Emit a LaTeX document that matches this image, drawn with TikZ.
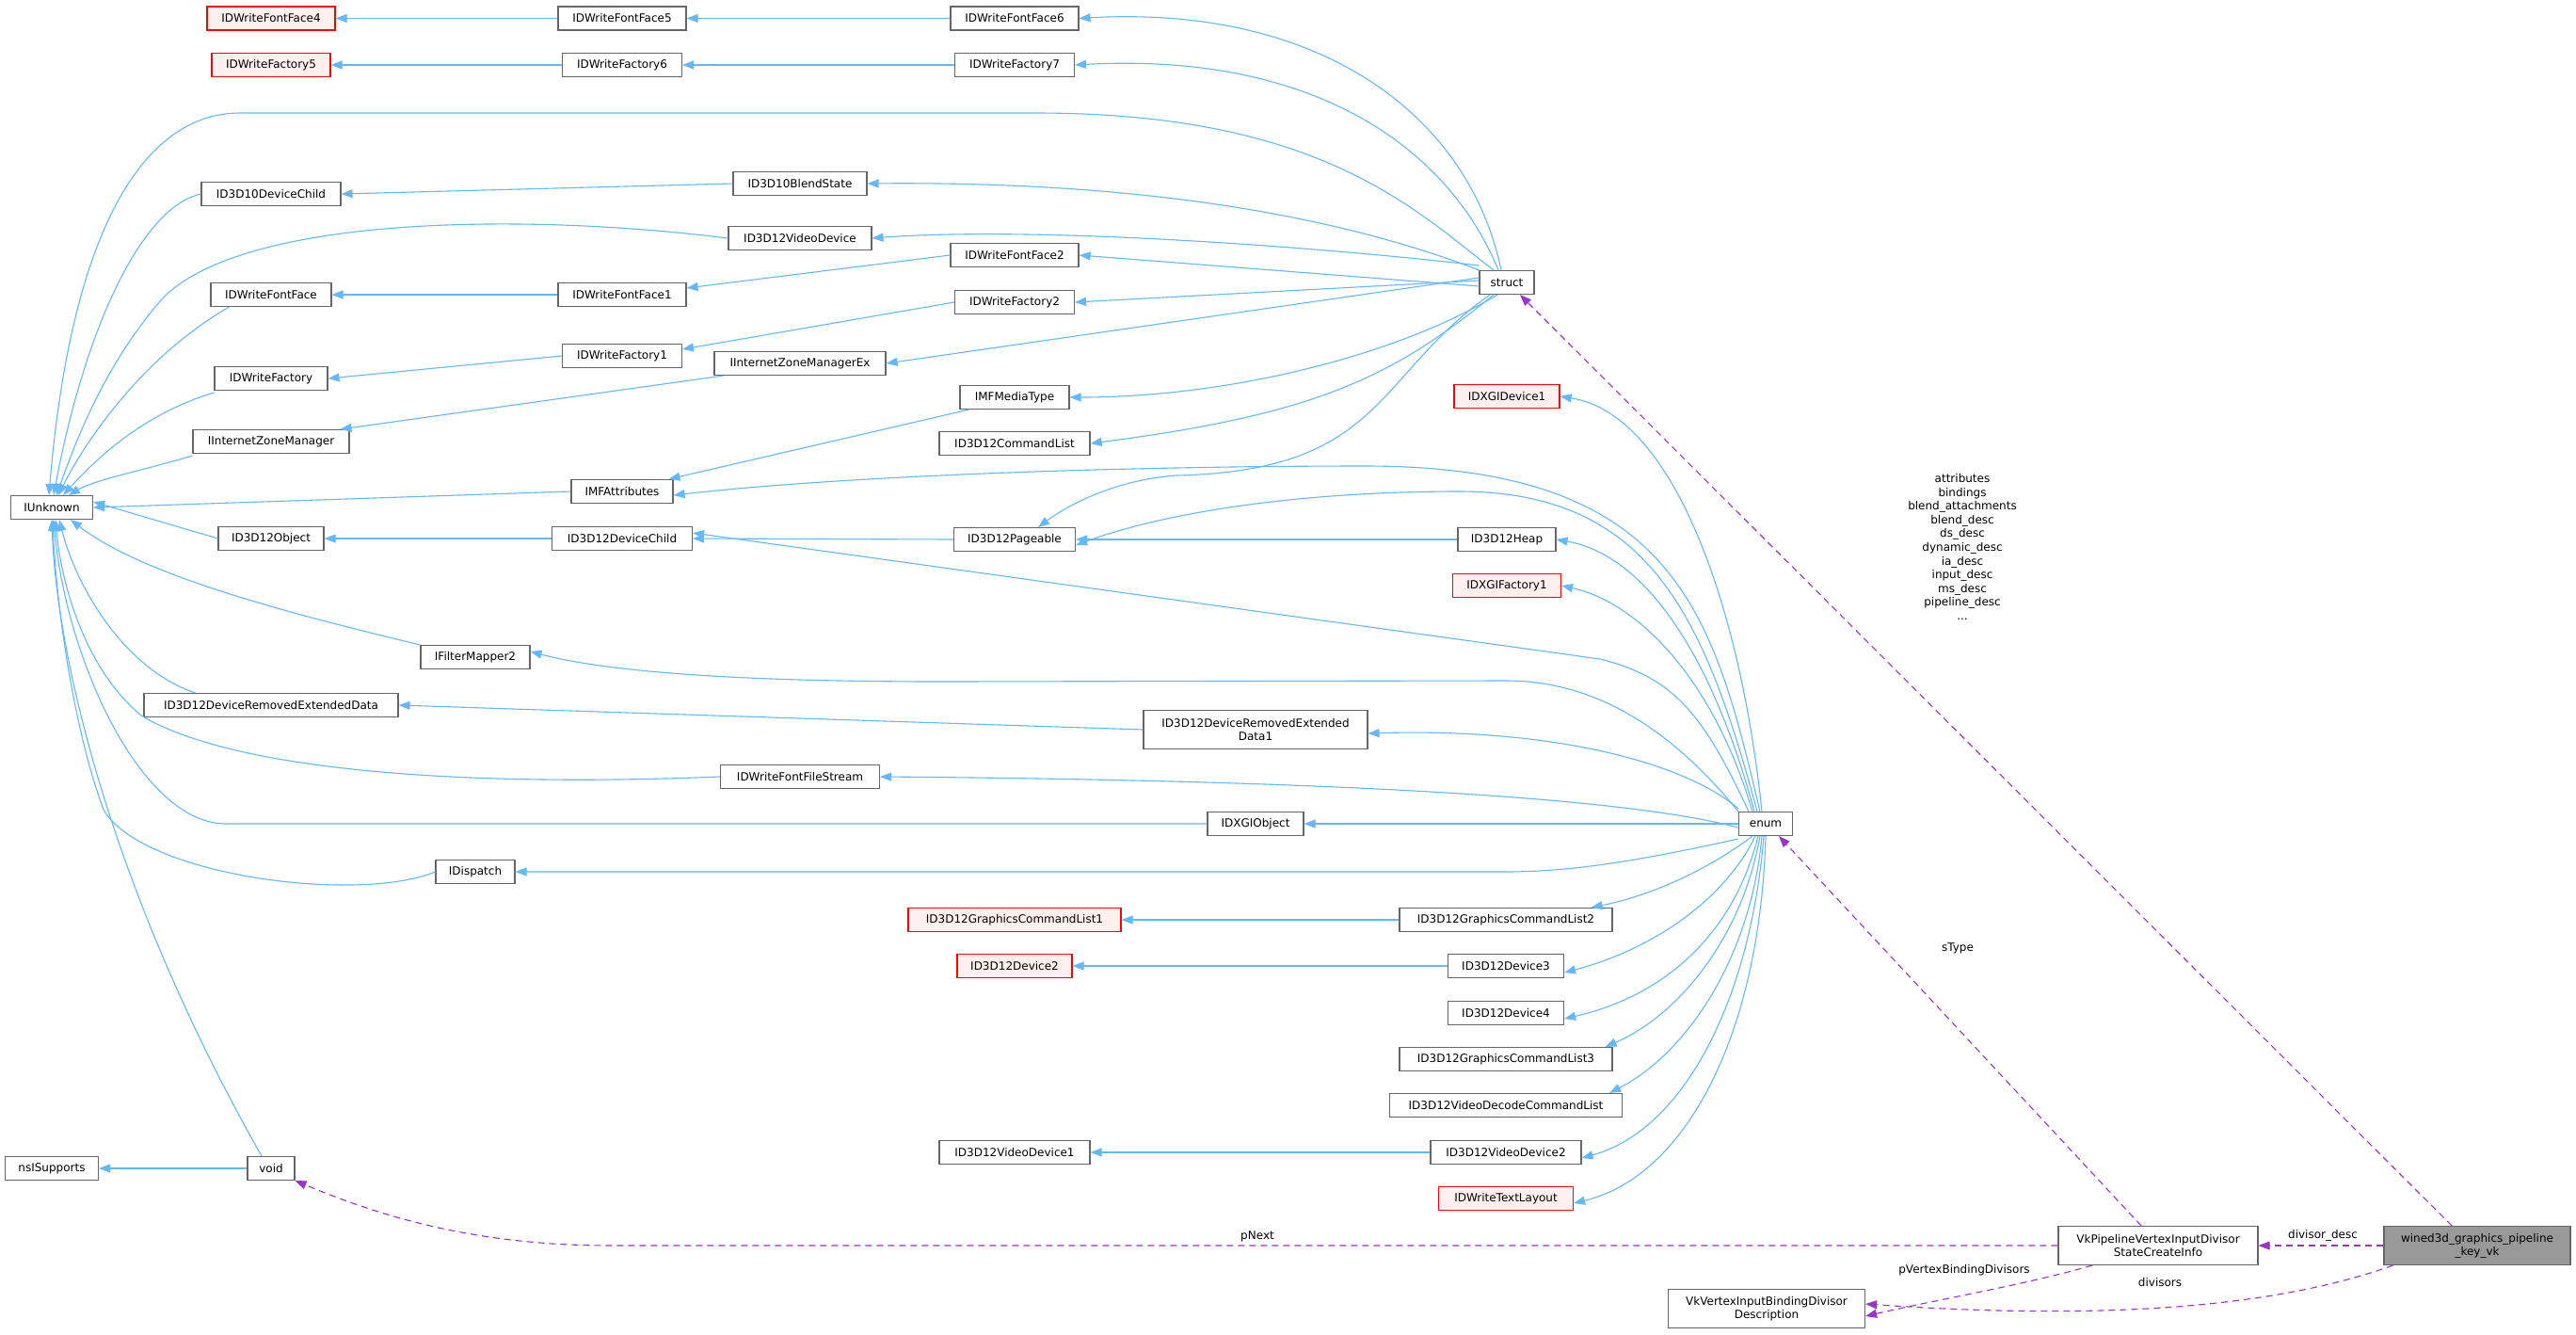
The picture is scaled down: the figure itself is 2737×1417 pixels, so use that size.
\documentclass[tikz,border=0pt]{standalone}
\usepackage{fontspec}
\setmainfont{DejaVu Sans}
\usetikzlibrary{arrows.meta}
\definecolor{eblue}{HTML}{63B8FF}
\definecolor{epurp}{HTML}{9A32CD}
\definecolor{bgray}{HTML}{666666}
\definecolor{pinkfill}{HTML}{FFF0F0}
\begin{document}
\begin{tikzpicture}[x=1pt,y=-1pt,
  box/.style={draw=bgray,line width=1.1pt,fill=white,inner sep=0pt,minimum height=25pt,font=\fontsize{12}{14}\selectfont},
  redbox/.style={box,draw=red,fill=pinkfill},
  two/.style={box,minimum height=41pt,align=center},
  inh/.style={draw=eblue,line width=1.1pt,-{Triangle[length=12pt,width=9pt]}},
  use/.style={draw=epurp,line width=1.1pt,dash pattern=on 7pt off 5pt,-{Triangle[length=12pt,width=9pt]}},
  lab/.style={font=\fontsize{12}{14.6}\selectfont,inner sep=1pt,align=center}]
\useasboundingbox (0,0) rectangle (2737,1417);
\fill[white] (0,0) rectangle (2737,1417);
% nodes
\node[redbox,minimum width=136pt] (ff4) at (288,19.5) {IDWriteFontFace4};
\node[box,minimum width=136pt] (ff5) at (661,19.5) {IDWriteFontFace5};
\node[box,minimum width=136pt] (ff6) at (1078,19.5) {IDWriteFontFace6};
\node[redbox,minimum width=126pt] (f5) at (288,69) {IDWriteFactory5};
\node[box,minimum width=127pt] (f6) at (661,69) {IDWriteFactory6};
\node[box,minimum width=127pt] (f7) at (1078,69) {IDWriteFactory7};
\node[box,minimum width=148pt] (d10c) at (288,206) {ID3D10DeviceChild};
\node[box,minimum width=142pt] (d10b) at (850,195) {ID3D10BlendState};
\node[box,minimum width=152pt] (vd) at (850,253) {ID3D12VideoDevice};
\node[box,minimum width=128pt] (ff) at (288,313) {IDWriteFontFace};
\node[box,minimum width=136pt] (ff1) at (661,313) {IDWriteFontFace1};
\node[box,minimum width=136pt] (ff2) at (1078,271) {IDWriteFontFace2};
\node[box,minimum width=120pt] (f) at (288,402) {IDWriteFactory};
\node[box,minimum width=127pt] (f1) at (661,378) {IDWriteFactory1};
\node[box,minimum width=127pt] (f2) at (1078,321) {IDWriteFactory2};
\node[box,minimum width=182pt] (izmx) at (850,386) {IInternetZoneManagerEx};
\node[box,minimum width=166pt] (izm) at (288,469) {IInternetZoneManager};
\node[box,minimum width=108pt] (imfa) at (661,522) {IMFAttributes};
\node[box,minimum width=116pt] (imfm) at (1078,422) {IMFMediaType};
\node[box,minimum width=160pt] (cl) at (1078,471) {ID3D12CommandList};
\node[box,minimum width=87pt] (iu) at (55,539) {IUnknown};
\node[box,minimum width=58pt] (st) at (1601,300) {struct};
\node[redbox,minimum width=112pt] (dxd1) at (1601,421) {IDXGIDevice1};
\node[box,minimum width=129pt] (pg) at (1078,573) {ID3D12Pageable};
\node[box,minimum width=104pt] (hp) at (1601,573) {ID3D12Heap};
\node[redbox,minimum width=115pt] (dxf1) at (1601,622) {IDXGIFactory1};
\node[box,minimum width=112pt] (obj) at (288,572) {ID3D12Object};
\node[box,minimum width=149pt] (dc) at (661,572) {ID3D12DeviceChild};
\node[box,minimum width=116pt] (fm2) at (505,698) {IFilterMapper2};
\node[box,minimum width=270pt] (dred) at (288,749) {ID3D12DeviceRemovedExtendedData};
\node[two,minimum width=238pt] (dred1) at (1334,775) {ID3D12DeviceRemovedExtended\\Data1};
\node[box,minimum width=169pt] (ffs) at (850,825) {IDWriteFontFileStream};
\node[box,minimum width=102pt] (dxo) at (1334,875) {IDXGIObject};
\node[box,minimum width=57pt] (en) at (1876,875) {enum};
\node[box,minimum width=84pt] (disp) at (505,926) {IDispatch};
\node[redbox,minimum width=226pt] (gcl1) at (1078,977) {ID3D12GraphicsCommandList1};
\node[box,minimum width=226pt] (gcl2) at (1600,977) {ID3D12GraphicsCommandList2};
\node[redbox,minimum width=122pt] (dv2) at (1078,1026) {ID3D12Device2};
\node[box,minimum width=123pt] (dv3) at (1600,1026) {ID3D12Device3};
\node[box,minimum width=123pt] (dv4) at (1600,1076) {ID3D12Device4};
\node[box,minimum width=226pt] (gcl3) at (1600,1125) {ID3D12GraphicsCommandList3};
\node[box,minimum width=247pt] (vdcl) at (1600,1174) {ID3D12VideoDecodeCommandList};
\node[box,minimum width=160pt] (vd1) at (1078,1224) {ID3D12VideoDevice1};
\node[box,minimum width=160pt] (vd2) at (1600,1224) {ID3D12VideoDevice2};
\node[redbox,minimum width=143pt] (tl) at (1600,1273) {IDWriteTextLayout};
\node[box,minimum width=99pt] (nsi) at (55,1241) {nsISupports};
\node[box,minimum width=50pt] (void) at (288,1241) {void};
\node[two,minimum width=212pt] (vkp) at (2293,1323) {VkPipelineVertexInputDivisor\\StateCreateInfo};
\node[two,minimum width=198pt,fill=black!40] (w3d) at (2632,1323) {wined3d\_graphics\_pipeline\\\_key\_vk};
\node[two,minimum width=209pt] (vkv) at (1877,1390) {VkVertexInputBindingDivisor\\Description};
% straight chains
\draw[inh] (ff5.west) -- (ff4.east);
\draw[inh] (ff6.west) -- (ff5.east);
\draw[inh] (f6.west) -- (f5.east);
\draw[inh] (f7.west) -- (f6.east);
\draw[inh] (d10b.west) -- (d10c.east);
\draw[inh] (ff1.west) -- (ff.east);
\draw[inh] (ff2.west) -- ([yshift=-6pt]ff1.north east);
\draw[inh] (f1.west) -- (f.east);
\draw[inh] (f2.west) -- ([yshift=-6pt]f1.north east);
\draw[inh] ([xshift=10pt]izmx.south west) -- ([xshift=-10pt]izm.north east);
\draw[inh] ([xshift=10pt]imfm.south west) -- ([xshift=-5pt]imfa.north east);
\draw[inh] (imfa.west) -- (iu.east);
\draw[inh] (obj.west) -- ([yshift=6pt]iu.east);
\draw[inh] (dc.west) -- (obj.east);
\draw[inh] (pg.west) -- (dc.east);
\draw[inh] (hp.west) -- (pg.east);
\draw[inh] (dred1.west) -- (dred.east);
\draw[inh] (en.west) -- (dxo.east);
\draw[inh] (gcl2.west) -- (gcl1.east);
\draw[inh] (dv3.west) -- (dv2.east);
\draw[inh] (vd2.west) -- (vd1.east);
\draw[inh] (void.west) -- (nsi.east);
% struct edges
\draw[inh] ([xshift=-6pt]st.north) .. controls (1560,120) and (1400,5) .. (ff6.east);
\draw[inh] ([xshift=-9pt]st.north) .. controls (1540,160) and (1400,55) .. (f7.east);
\draw[inh] ([xshift=-14pt]st.north) .. controls (1500,220) and (1400,120) .. (1100,120) -- (255,120) .. controls (150,120) and (75,250) .. ([xshift=-3pt]iu.north);
\draw[inh] (st.north west) .. controls (1450,240) and (1250,192) .. (d10b.east);
\draw[inh] ([yshift=5pt]st.north west) .. controls (1400,262) and (1100,240) .. (vd.east);
\draw[inh] ([yshift=-4pt]st.west) -- (ff2.east);
\draw[inh] ([yshift=2pt]st.west) -- (f2.east);
\draw[inh] ([yshift=5pt]st.west) -- (izmx.east);
\draw[inh] ([xshift=-10pt]st.south) .. controls (1480,380) and (1300,422) .. (imfm.east);
\draw[inh] ([xshift=-14pt]st.south) .. controls (1480,400) and (1400,440) .. (cl.east);
\draw[inh] ([xshift=-18pt]st.south) .. controls (1460,400) and (1470,500) .. (1250,505) .. controls (1180,510) and (1130,540) .. ([xshift=25pt]pg.north);
% IUnknown edges
\draw[inh] (d10c.west) .. controls (150,220) and (90,350) .. ([xshift=2pt]iu.north);
\draw[inh] (vd.west) .. controls (550,225) and (250,230) .. (170,320) .. controls (110,390) and (80,470) .. ([xshift=5pt]iu.north);
\draw[inh] ([xshift=20pt]ff.south west) .. controls (150,380) and (90,470) .. ([xshift=7pt]iu.north);
\draw[inh] ([yshift=-2pt]f.south west) .. controls (150,440) and (100,490) .. ([xshift=12pt]iu.north);
\draw[inh] ([yshift=-2pt]izm.south west) .. controls (150,500) and (100,510) .. ([xshift=18pt]iu.north);
\draw[inh] (fm2.north west) .. controls (300,650) and (150,610) .. ([xshift=20pt]iu.south);
\draw[inh] ([xshift=55pt]dred.north west) .. controls (130,710) and (80,620) .. ([xshift=8pt]iu.south);
\draw[inh] (ffs.west) .. controls (500,836) and (250,820) .. (150,760) .. controls (90,710) and (65,620) .. ([xshift=4pt]iu.south);
\draw[inh] (dxo.west) -- (240,875) .. controls (150,875) and (70,700) .. ([xshift=2pt]iu.south);
\draw[inh] (disp.west) .. controls (380,960) and (150,930) .. (110,860) .. controls (80,780) and (60,650) .. ([xshift=1pt]iu.south);
\draw[inh] ([xshift=-10pt]void.north) .. controls (120,950) and (60,700) .. (iu.south);
% enum edges
\draw[inh] ([xshift=-6pt]en.north) .. controls (1820,650) and (1780,495) .. (1450,495) .. controls (1200,495) and (900,505) .. ([yshift=-4pt]imfa.east);
\draw[inh] ([xshift=-9pt]en.north) .. controls (1810,650) and (1750,522) .. (1550,522) .. controls (1400,522) and (1250,540) .. ([yshift=-6pt]pg.east);
\draw[inh] ([xshift=-4pt]en.north) .. controls (1850,650) and (1780,440) .. (dxd1.east);
\draw[inh] ([xshift=-12pt]en.north) .. controls (1820,700) and (1750,590) .. (hp.east);
\draw[inh] ([xshift=-14pt]en.north) .. controls (1820,720) and (1740,640) .. (dxf1.east);
\draw[inh] ([xshift=-18pt]en.north) .. controls (1810,760) and (1780,720) .. (1700,700) -- ([yshift=6pt]dc.east);
\draw[inh] (en.north west) .. controls (1780,780) and (1700,723) .. (1600,723) -- (1000,724) .. controls (800,724) and (650,715) .. ([yshift=6pt]fm2.east);
\draw[inh] ([yshift=3pt]en.north west) .. controls (1790,810) and (1650,773) .. ([yshift=-4pt]dred1.east);
\draw[inh] ([yshift=-4pt]en.west) .. controls (1700,840) and (1300,828) .. (ffs.east);
\draw[inh] ([yshift=-3pt]en.south west) .. controls (1760,910) and (1680,926) .. (1600,926) -- (disp.east);
\draw[inh] ([xshift=-14pt]en.south) .. controls (1820,920) and (1760,950) .. ([xshift=-23pt]gcl2.north east);
\draw[inh] ([xshift=-11pt]en.south) .. controls (1830,960) and (1750,1010) .. ([yshift=-7pt]dv3.east);
\draw[inh] ([xshift=-8pt]en.south) .. controls (1840,1000) and (1760,1060) .. ([yshift=-6pt]dv4.east);
\draw[inh] ([xshift=-6pt]en.south) .. controls (1850,1000) and (1780,1080) .. ([xshift=-8pt]gcl3.north east);
\draw[inh] ([xshift=-4pt]en.south) .. controls (1860,1020) and (1790,1120) .. ([xshift=-14pt]vdcl.north east);
\draw[inh] ([xshift=-2pt]en.south) .. controls (1860,1060) and (1790,1200) .. ([yshift=-6pt]vd2.east);
\draw[inh] (en.south) .. controls (1870,1100) and (1790,1250) .. ([yshift=-5pt]tl.east);
% usage edges
\draw[use] (vkp.west) -- (650,1323) .. controls (500,1323) and (400,1290) .. (void.south east);
\node[lab] (lpn) at (1336,1313) {pNext};
\draw[use] ([xshift=-27pt]w3d.north) -- ([xshift=14pt]st.south);
\node[lab] (lat) at (2085,581) {attributes\\bindings\\blend\_attachments\\blend\_desc\\ds\_desc\\dynamic\_desc\\ia\_desc\\input\_desc\\ms\_desc\\pipeline\_desc\\...};
\draw[use] ([xshift=-18pt]vkp.north) -- ([xshift=14pt]en.south);
\node[lab] (lst) at (2080,1007) {sType};
\draw[use] (w3d.west) -- (vkp.east);
\node[lab] (ldd) at (2468,1312) {divisor\_desc};
\draw[use] ([xshift=-70pt]vkp.south) .. controls (2150,1365) and (2060,1380) .. ([yshift=-8pt]vkv.east);
\node[lab] (lpv) at (2087,1349) {pVertexBindingDivisors};
\draw[use] ([xshift=10pt]w3d.south west) .. controls (2400,1395) and (2200,1400) .. ([yshift=5pt]vkv.east);
\node[lab] (ldv) at (2295,1362) {divisors};
\end{tikzpicture}
\end{document}
